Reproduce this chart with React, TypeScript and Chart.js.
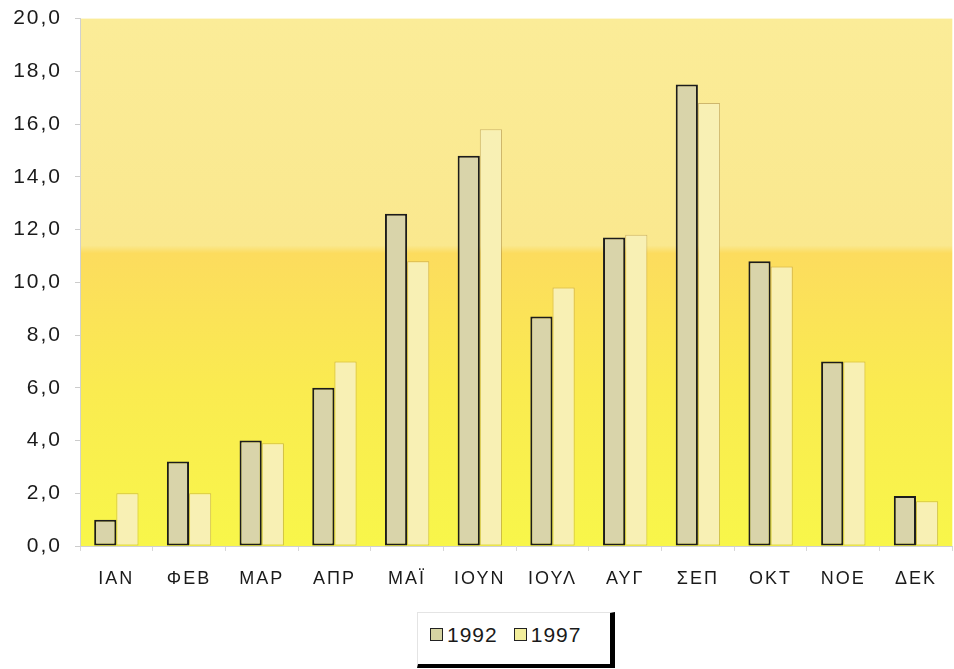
import React, { useEffect, useRef } from "react";
import { Chart, registerables } from "chart.js";

Chart.register(...registerables);

const months = ["ΙΑΝ", "ΦΕΒ", "ΜΑΡ", "ΑΠΡ", "ΜΑΪ", "ΙΟΥΝ", "ΙΟΥΛ", "ΑΥΓ", "ΣΕΠ", "ΟΚΤ", "ΝΟΕ", "ΔΕΚ"];
const series1992 = [1.0, 3.2, 4.0, 6.0, 12.6, 14.8, 8.7, 11.7, 17.5, 10.8, 7.0, 1.9];
const series1997 = [2.0, 2.0, 3.9, 7.0, 10.8, 15.8, 9.8, 11.8, 16.8, 10.6, 7.0, 1.7];
const seriesNames = ["1992", "1997"];

const bgPlugin = {
  id: "bgGradient",
  beforeDraw(chart: any) {
    const { ctx, chartArea } = chart;
    if (!chartArea) return;
    const { left, top, right, bottom } = chartArea;
    const g = ctx.createLinearGradient(0, top, 0, bottom);
    g.addColorStop(0, "#FBEC98");
    g.addColorStop(0.43, "#FAE88E");
    g.addColorStop(0.445, "#FCDC5E");
    g.addColorStop(0.7, "#FAEB50");
    g.addColorStop(1, "#F8F64A");
    ctx.save();
    ctx.fillStyle = g;
    ctx.fillRect(left, top, right - left, bottom - top);
    ctx.restore();
    (ctx as any).letterSpacing = "2px";
  },
  beforeLayout(chart: any) {
    (chart.ctx as any).letterSpacing = "2px";
  },
};

export default function App() {
  const ref = useRef<HTMLCanvasElement>(null);
  useEffect(() => {
    if (!ref.current) return;
    const chart = new Chart(ref.current, {
      type: "bar",
      data: {
        labels: months,
        datasets: [
          {
            label: seriesNames[0],
            data: series1992,
            backgroundColor: "#D9D4AA",
            borderColor: "#1c1c1c",
            borderWidth: 2,
            borderSkipped: false,
            categoryPercentage: 0.61,
            barPercentage: 1.0,
          },
          {
            label: seriesNames[1],
            data: series1997,
            backgroundColor: "#F8F0B4",
            borderColor: "rgba(150,120,60,0.45)",
            borderWidth: 1,
            borderSkipped: false,
            categoryPercentage: 0.61,
            barPercentage: 1.0,
          },
        ],
      },
      options: {
        animation: false,
        responsive: false,
        maintainAspectRatio: false,
        layout: { padding: { top: 8, right: 0, left: 0, bottom: 0 } },
        plugins: {
          legend: { display: false },
          tooltip: { enabled: false },
        },
        scales: {
          x: {
            grid: { display: true, drawOnChartArea: false, tickLength: 5, color: "#d8d8d8", offset: true },
            border: { color: "#d0d0d0" },
            ticks: {
              color: "#1a1a1a",
              font: { family: "Liberation Sans, Arial", size: 18 },
              padding: 17,
              maxRotation: 0,
            },
            afterFit: (s: any) => {
              s.height = 54;
            },
          },
          y: {
            min: 0,
            max: 20,
            grid: { display: true, drawOnChartArea: false, tickLength: 5, color: "#cccccc" },
            border: { color: "#d0d0d0" },
            ticks: {
              stepSize: 2,
              color: "#1a1a1a",
              font: { family: "Liberation Sans, Arial", size: 21 },
              padding: 13,
              callback: (v: any) => Number(v).toFixed(1).replace(".", ","),
            },
            afterFit: (s: any) => {
              s.width = 80;
            },
          },
        },
      },
      plugins: [bgPlugin],
    });
    return () => chart.destroy();
  }, []);

  const sq = (fill: string) => ({
    display: "inline-block",
    width: 11,
    height: 11,
    background: fill,
    border: "1.5px solid #222",
    marginRight: 4,
    verticalAlign: "middle",
  });

  return (
    <div style={{ position: "absolute", left: 0, top: 0, width: 954, height: 669, background: "#fff", overflow: "hidden" }}>
      <canvas ref={ref} width={954} height={607} style={{ position: "absolute", left: 0, top: -7 }} />
      <div
        style={{
          position: "absolute",
          left: 417,
          top: 612,
          width: 198,
          height: 56,
          borderTop: "1px solid #e4e4e4",
          borderLeft: "1px solid #e4e4e4",
          borderRight: "5px solid #000",
          borderBottom: "4px solid #000",
          boxSizing: "border-box",
          fontFamily: "Liberation Sans, Arial",
          fontSize: 21,
          letterSpacing: "1px",
          color: "#1a1a1a",
          display: "flex",
          alignItems: "center",
          paddingLeft: 12,
          paddingBottom: 8,
          whiteSpace: "nowrap",
        }}
      >
        <span style={sq("#D6D4A2")} />
        <span style={{ marginRight: 16 }}>{seriesNames[0]}</span>
        <span style={sq("#F2EE9C")} />
        <span>{seriesNames[1]}</span>
      </div>
    </div>
  );
}
